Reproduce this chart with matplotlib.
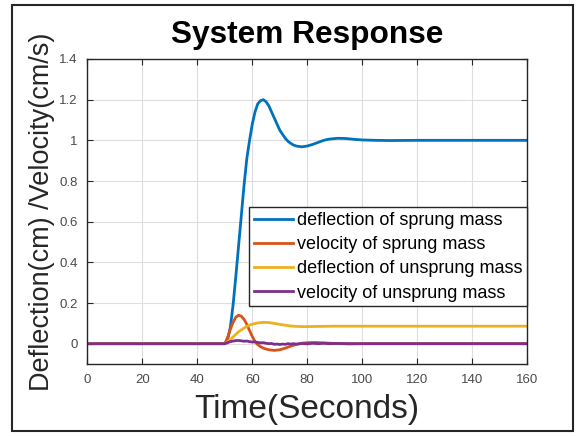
import matplotlib.pyplot as plt
from matplotlib.patches import Rectangle

plt.rcParams['font.family'] = ['Liberation Sans', 'DejaVu Sans']

# ---------------------------------------------------------------------------
# Data
# ---------------------------------------------------------------------------

t_sprung_defl = [0, 50, 51, 52, 53, 54, 55, 56, 57, 58, 59, 60, 61, 62, 63, 64,
                 65, 66, 67, 68, 69, 70, 71, 72, 73, 74, 75, 76, 78, 80, 82,
                 84, 86, 88, 91, 94, 97, 100, 105, 110, 120, 160]
sprung_defl = [0, 0, 0.02, 0.08, 0.19, 0.33, 0.48, 0.63, 0.78, 0.91, 1.0,
               1.08, 1.14, 1.18, 1.195, 1.2, 1.19, 1.17, 1.14, 1.11, 1.08,
               1.05, 1.03, 1.01, 0.995, 0.985, 0.977, 0.972, 0.968, 0.972,
               0.98, 0.99, 1.0, 1.006, 1.01, 1.009, 1.005, 1.002, 1.0, 0.999,
               1.0, 1.0]

t_sprung_vel = [0, 50, 51, 52, 53, 54, 55, 56, 57, 58, 59, 60, 61, 62, 63, 64,
                66, 68, 70, 72, 74, 76, 78, 80, 83, 86, 90, 95, 100, 160]
sprung_vel = [0, 0, 0.03, 0.07, 0.105, 0.13, 0.14, 0.135, 0.12, 0.095, 0.065,
              0.035, 0.01, -0.005, -0.015, -0.022, -0.03, -0.033, -0.03,
              -0.022, -0.012, -0.004, 0.002, 0.005, 0.006, 0.004, 0.001,
              -0.001, 0, 0]

t_unsprung_defl = [0, 50, 51, 52, 53, 54, 55, 56, 57, 58, 59, 60, 62, 64, 66,
                   68, 70, 72, 74, 76, 78, 80, 84, 90, 100, 160]
unsprung_defl = [0, 0, 0.008, 0.02, 0.033, 0.046, 0.058, 0.068, 0.077, 0.085,
                 0.091, 0.096, 0.102, 0.105, 0.104, 0.1, 0.095, 0.091, 0.087,
                 0.085, 0.084, 0.084, 0.085, 0.086, 0.086, 0.086]

t_unsprung_vel = [0, 50, 51, 52, 53, 54, 55, 56, 57, 58, 59, 60, 61, 62, 63,
                  64, 65, 66, 67, 68, 69, 70, 71, 72, 73, 74, 75, 76, 78, 80,
                  82, 84, 86, 88, 90, 95, 100, 160]
unsprung_vel = [0, 0, 0.005, 0.01, 0.013, 0.015, 0.016, 0.014, 0.012, 0.013,
                0.01, 0.008, 0.009, 0.006, 0.004, 0.005, 0.002, 0.0, 0.001,
                -0.003, -0.002, -0.004, -0.002, -0.003, 0.0, -0.002, 0.0,
                -0.002, 0.001, -0.001, 0.002, 0.0, 0.002, 0.0, 0.001, 0.0, 0, 0]

labels = ['deflection of sprung mass', 'velocity of sprung mass',
          'deflection of unsprung mass', 'velocity of unsprung mass']
colors = ['#0072BD', '#D95319', '#EDB120', '#7E2F8E']

x_ticks = list(range(0, 161, 20))
y_ticks = [0, 0.2, 0.4, 0.6, 0.8, 1, 1.2, 1.4]
y_tick_labels = ['0', '0.2', '0.4', '0.6', '0.8', '1', '1.2', '1.4']

# ---------------------------------------------------------------------------
# Plot
# ---------------------------------------------------------------------------

fig = plt.figure(figsize=(5.82, 4.36), dpi=100)
ax = fig.add_axes([0.1503, 0.1651, 0.7552, 0.6996])

series = [(t_sprung_defl, sprung_defl), (t_sprung_vel, sprung_vel),
          (t_unsprung_defl, unsprung_defl), (t_unsprung_vel, unsprung_vel)]
for (t, y), lbl, c in zip(series, labels, colors):
    ax.plot(t, y, color=c, linewidth=2, label=lbl)

ax.set_xlim(0, 160)
ax.set_ylim(-0.1, 1.4)
ax.set_xticks(x_ticks)
ax.set_yticks(y_ticks)
ax.set_yticklabels(y_tick_labels)
ax.grid(True, color='#dedede', linewidth=0.8)
ax.set_axisbelow(True)
ax.tick_params(direction='in', top=True, right=True, length=4, width=0.8,
               labelsize=9.5, labelcolor='#4a4a4a', color='#262626', pad=7)
for sp in ax.spines.values():
    sp.set_color('#262626')
    sp.set_linewidth(1.0)

ax.set_xlabel('Time(Seconds)', fontsize=24, color='#262626', labelpad=6)
ax.set_ylabel('Deflection(cm) /Velocity(cm/s)', fontsize=19.5,
              color='#262626', labelpad=3)
fig.text(307 / 582, 1 - 43 / 436, 'System Response', fontsize=22.8,
         fontweight='bold', ha='center', va='baseline')

leg = ax.legend(loc='lower right', bbox_to_anchor=(1.0, 0.19),
                borderaxespad=0, fontsize=13, handlelength=2.2,
                handletextpad=0.2, labelspacing=0.4, borderpad=0.25,
                fancybox=False, framealpha=1, edgecolor='#262626')
leg.get_frame().set_linewidth(1.0)

# screenshot frame around the whole figure
fig.patches.append(Rectangle((12 / 582, 1 - 431 / 436), 561 / 582, 426 / 436,
                             transform=fig.transFigure, fill=False,
                             edgecolor='#262626', linewidth=1.5))

fig.savefig('out.png', dpi=100)
